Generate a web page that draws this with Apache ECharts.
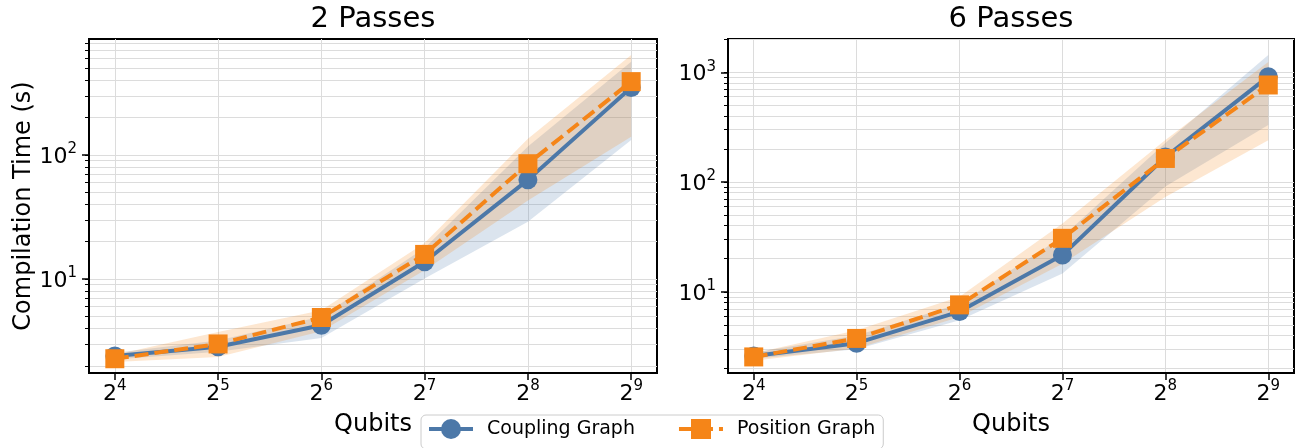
<!DOCTYPE html>
<html><head><meta charset="utf-8">
<script src="https://cdn.jsdelivr.net/npm/echarts@6/dist/echarts.min.js"></script>
<style>html,body{margin:0;padding:0;background:#fff}#c{width:1297px;height:448px}</style>
</head><body><div id="c"></div>
<script>
// ---------- data ----------
const qubits = [16, 32, 64, 128, 256, 512];
const titles = ['2 Passes', '6 Passes'];
const seriesNames = ['Coupling Graph', 'Position Graph'];

// 2 passes
const coupling2   = [2.4, 2.85, 4.25, 13.8, 63, 350];
const coupling2Lo = [2.25, 2.6, 3.35, 10.1, 29, 132];
const coupling2Hi = [2.55, 3.2, 5.0, 17.8, 117, 565];
const position2   = [2.28, 3.0, 4.9, 15.8, 85, 390];
const position2Lo = [2.15, 2.35, 3.8, 11.8, 43, 140];
const position2Hi = [2.45, 3.75, 5.6, 19.5, 135, 640];

// 6 passes
const coupling6   = [2.6, 3.4, 6.6, 21.6, 169, 912];
const coupling6Lo = [2.45, 3.0, 5.5, 14.7, 91, 330];
const coupling6Hi = [2.8, 4.0, 7.8, 31.7, 227, 1435];
const position6   = [2.55, 3.76, 7.6, 30.7, 164, 766];
const position6Lo = [2.35, 3.05, 5.9, 18, 73, 240];
const position6Hi = [2.75, 4.47, 9.0, 42, 241, 1240];

// axes / tick labels
const xTickExps = [4, 5, 6, 7, 8, 9];
const yTickExps = [[1, 2], [1, 2, 3]];
const yRanges = [[1.75, 860], [1.82, 2010]];
const xRangeExp = [3.75, 9.25];
const xName = 'Qubits';
const yName = 'Compilation Time (s)';

// ---------- style ----------
const BLUE = '#4c78a8', ORANGE = '#f58518';
const FONT = 'DejaVu Sans';
const grids = [
  {left: 89, right: 640, top: 39, bottom: 75},
  {left: 728, right: 3, top: 39, bottom: 75}
];
const panelData = [
  {c: coupling2, cLo: coupling2Lo, cHi: coupling2Hi, p: position2, pLo: position2Lo, pHi: position2Hi},
  {c: coupling6, cLo: coupling6Lo, cHi: coupling6Hi, p: position6, pLo: position6Lo, pHi: position6Hi}
];

function minorVals(range) {
  const out = [];
  for (let n = -1; n <= 4; n++) for (let k = 1; k <= 9; k++) {
    const v = k * Math.pow(10, n);
    if (v >= range[0] && v <= range[1]) out.push(Math.log10(v));
  }
  return out;
}

const rich = {
  b: {fontSize: 22, fontFamily: FONT, color: '#000', lineHeight: 26, verticalAlign: 'bottom'},
  s: {fontSize: 15, fontFamily: FONT, color: '#000', lineHeight: 15, verticalAlign: 'top'}
};

const xAxes = [], yAxes = [], series = [], titleOpts = [];
grids.forEach((g, gi) => {
  const center = g.left + (1297 - g.left - g.right) / 2;
  titleOpts.push({text: titles[gi], left: center, top: 5, textAlign: 'center', padding: 0,
    textStyle: {fontFamily: FONT, fontSize: 29, fontWeight: 'normal', color: '#000'}});
  xAxes.push({
    type: 'value', gridIndex: gi, min: xRangeExp[0], max: xRangeExp[1],
    name: xName, nameLocation: 'middle', nameGap: 40,
    nameTextStyle: {fontFamily: FONT, fontSize: 24, color: '#000'},
    axisLine: {show: true, lineStyle: {color: '#000', width: 2}},
    axisTick: {show: true, length: 7, lineStyle: {color: '#000', width: 1.5}, customValues: xTickExps},
    axisLabel: {margin: 6, customValues: xTickExps, rich: rich,
      formatter: v => '{b|2}{s|' + Math.round(v) + '}'},
    splitLine: {show: true, lineStyle: {color: '#dcdcdc', width: 1}}
  });
  const yMin = Math.log10(yRanges[gi][0]), yMax = Math.log10(yRanges[gi][1]);
  yAxes.push({
    type: 'value', gridIndex: gi, position: 'left', min: yMin, max: yMax,
    name: gi === 0 ? yName : '', nameLocation: 'middle', nameGap: 52,
    nameTextStyle: {fontFamily: FONT, fontSize: 24, color: '#000'},
    axisLine: {show: true, lineStyle: {color: '#000', width: 2}},
    axisTick: {show: true, length: 7, lineStyle: {color: '#000', width: 1.5}, customValues: yTickExps[gi]},
    axisLabel: {margin: 12, customValues: yTickExps[gi], rich: rich,
      formatter: v => '{b|10}{s|' + Math.round(v) + '}'},
    splitLine: {show: false}
  });
  yAxes.push({
    type: 'value', gridIndex: gi, position: 'left', min: yMin, max: yMax,
    axisLine: {show: false},
    axisTick: {show: true, length: 4, lineStyle: {color: '#000', width: 1}, customValues: minorVals(yRanges[gi])},
    axisLabel: {show: false},
    splitLine: {show: true, lineStyle: {color: '#dcdcdc', width: 1}}
  });

  const d = panelData[gi];
  const xs = qubits.map(q => Math.log2(q));
  function band(lo, hi, color, z) {
    return {
      type: 'custom', xAxisIndex: gi, yAxisIndex: gi * 2, silent: true, clip: true, z: z,
      data: xs.map((x, i) => [x, Math.log10(lo[i]), Math.log10(hi[i])]),
      encode: {x: 0, y: [1, 2]},
      renderItem: (params, api) => {
        if (params.dataIndex !== 0) return null;
        const pts = [];
        for (let i = 0; i < xs.length; i++) pts.push(api.coord([xs[i], Math.log10(hi[i])]));
        for (let i = xs.length - 1; i >= 0; i--) pts.push(api.coord([xs[i], Math.log10(lo[i])]));
        return {type: 'polygon', shape: {points: pts}, style: {fill: color}};
      }
    };
  }
  series.push(band(d.cLo, d.cHi, 'rgba(76,120,168,0.2)', 1));
  series.push(band(d.pLo, d.pHi, 'rgba(245,133,24,0.2)', 1));
  series.push({
    type: 'line', name: seriesNames[0], xAxisIndex: gi, yAxisIndex: gi * 2, z: 3,
    data: xs.map((x, i) => [x, Math.log10(d.c[i])]),
    symbol: 'circle', symbolSize: 19, showAllSymbol: true,
    lineStyle: {color: BLUE, width: 4}, itemStyle: {color: BLUE}
  });
  series.push({
    type: 'line', name: seriesNames[1], xAxisIndex: gi, yAxisIndex: gi * 2, z: 4,
    data: xs.map((x, i) => [x, Math.log10(d.p[i])]),
    symbol: 'rect', symbolSize: 19, showAllSymbol: true,
    lineStyle: {color: ORANGE, width: 4, type: [14, 6]}, itemStyle: {color: ORANGE}
  });
});

const chart = echarts.init(document.getElementById('c'), null, {renderer: 'canvas'});
chart.setOption({
  animation: false,
  backgroundColor: '#fff',
  textStyle: {fontFamily: FONT},
  title: titleOpts,
  grid: grids.map(g => Object.assign({show: true, borderColor: '#000', borderWidth: 2, containLabel: false}, g)),
  xAxis: xAxes,
  yAxis: yAxes,
  legend: {
    data: seriesNames, left: 421, top: 415, orient: 'horizontal',
    itemWidth: 44, itemHeight: 25, itemGap: 42,
    padding: [4, 8, 10, 6],
    borderColor: '#cccccc', borderWidth: 1, borderRadius: 5, backgroundColor: '#fff',
    lineStyle: {width: 4},
    textStyle: {fontFamily: FONT, fontSize: 19, color: '#000', padding: [0, 0, 0, 9]}
  },
  series: series
});
</script>
</body></html>
